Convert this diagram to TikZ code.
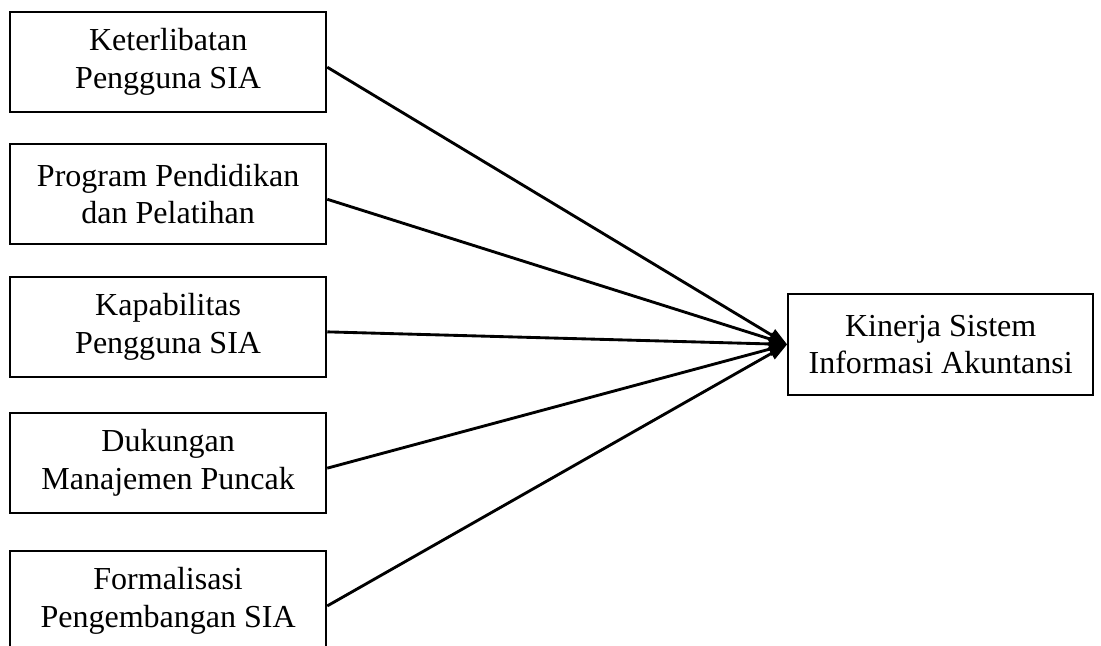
\documentclass[tikz,border=0pt]{standalone}
\usepackage{fontspec}
\setmainfont{Liberation Serif}
\usetikzlibrary{arrows.meta}

\begin{document}
\begin{tikzpicture}[
  var/.style={draw, line width=0.75pt, minimum width=4.27cm, minimum height=1.35cm,
    align=center, inner sep=0pt, font=\fontsize{12.3pt}{14.4pt}\selectfont},
  conn/.style={line width=1.1pt, -{Triangle[length=7pt,width=5pt]}}
]
\useasboundingbox (0,0) rectangle (14.864,-8.708);

% variabel bebas
\node[var] (k1) at (2.27,-0.837) {Keterlibatan\\Pengguna SIA};
\node[var] (k2) at (2.27,-2.62) {Program Pendidikan\\dan Pelatihan};
\node[var] (k3) at (2.27,-4.41) {Kapabilitas\\Pengguna SIA};
\node[var] (k4) at (2.27,-6.25) {Dukungan\\Manajemen Puncak};
\node[var] (k5) at (2.27,-8.11) {Formalisasi\\Pengembangan SIA};

% variabel terikat
\node[var, minimum width=4.12cm, minimum height=1.36cm] (kinerja) at (12.70,-4.65)
  {Kinerja Sistem\\Informasi Akuntansi};

\foreach \i in {1,...,5} {
\draw[conn] ([yshift=-2pt]k\i.east) -- (kinerja.west);
}

\end{tikzpicture}
\end{document}
